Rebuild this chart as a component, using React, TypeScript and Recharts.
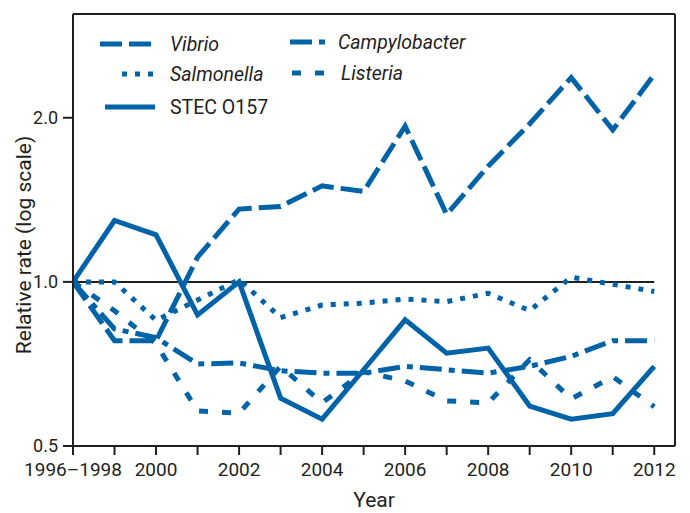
import React from "react";
import { LineChart, Line, XAxis, YAxis, ReferenceLine, Legend } from "recharts";

const categories = [
  "1996–1998", "1999", "2000", "2001", "2002", "2003", "2004", "2005",
  "2006", "2007", "2008", "2009", "2010", "2011", "2012",
];
const tickLabels = ["1996–1998", "2000", "2002", "2004", "2006", "2008", "2010", "2012"];

const vibrio = [1.0, 0.78, 0.78, 1.11, 1.36, 1.375, 1.5, 1.465, 1.93, 1.33, 1.63, 1.95, 2.37, 1.9, 2.4];
const salmonella = [1.0, 1.0, 0.85, 0.926, 1.01, 0.86, 0.907, 0.914, 0.93, 0.92, 0.953, 0.886, 1.02, 0.99, 0.96];
const stec = [1.0, 1.296, 1.22, 0.87, 1.0, 0.612, 0.56, 0.69, 0.852, 0.74, 0.756, 0.592, 0.56, 0.573, 0.7];
const campylobacter = [1.0, 0.82, 0.79, 0.707, 0.71, 0.687, 0.68, 0.68, 0.7, 0.69, 0.68, 0.7, 0.73, 0.78, 0.78];
const listeria = [1.0, 0.885, 0.77, 0.58, 0.574, 0.7, 0.6, 0.684, 0.658, 0.605, 0.6, 0.72, 0.61, 0.67, 0.59];

const yTicks = [0.5, 1, 2];
const yTop = 3.1;

const BLUE = "#0063a8";
const INK = "#231f20";
const FONT = "Roboto, 'Open Sans', sans-serif";

const series = [
  { key: "vibrio", name: "Vibrio", dash: "22 7", italic: true },
  { key: "salmonella", name: "Salmonella", dash: "5 8", italic: true },
  { key: "stec", name: "STEC O157", dash: undefined, italic: false },
  { key: "campylobacter", name: "Campylobacter", dash: "22 7 6 7", italic: true },
  { key: "listeria", name: "Listeria", dash: "9 14", italic: true },
];

const data = categories.map((c, i) => ({
  i,
  cat: c,
  vibrio: vibrio[i],
  salmonella: salmonella[i],
  stec: stec[i],
  campylobacter: campylobacter[i],
  listeria: listeria[i],
}));

const legendSlots = [
  { x1: 100, x2: 152, tx: 170, y: 44 },
  { x1: 122, x2: 153, tx: 170, y: 74 },
  { x1: 105, x2: 155, tx: 170, y: 107 },
  { x1: 290, x2: 326, tx: 338, y: 42 },
  { x1: 292, x2: 324, tx: 341, y: 73 },
];

const LegendBox = () => (
  <svg width={690} height={130} style={{ display: "block" }}>
    {series.map((s, idx) => {
      const p = legendSlots[idx];
      return (
        <g key={s.key}>
          <line
            x1={p.x1}
            x2={p.x2}
            y1={p.y}
            y2={p.y}
            stroke={BLUE}
            strokeWidth={5}
            strokeDasharray={s.dash}
          />
          <text
            x={p.tx}
            y={p.y + 7}
            fontFamily={FONT}
            fontSize={19.5}
            fontStyle={s.italic ? "italic" : "normal"}
            fill={INK}
          >
            {s.name}
          </text>
        </g>
      );
    })}
  </svg>
);

const xTickFormatter = (v: number) => {
  const label = categories[v];
  return tickLabels.includes(label) ? label : "";
};

export default function App() {
  return (
    <div style={{ position: "absolute", left: 0, top: 0, width: 690, height: 513, background: "#fff" }}>
      <LineChart
        width={690}
        height={513}
        data={data}
        margin={{ top: 14, right: 15, bottom: 0, left: 0 }}
      >
        <XAxis
          dataKey="i"
          type="number"
          domain={[0, 14.5]}
          ticks={categories.map((_, i) => i)}
          tickFormatter={xTickFormatter}
          interval={0}
          height={67}
          stroke={INK}
          strokeWidth={2}
          tickSize={9}
          tickMargin={8}
          tick={{ fill: INK, fontSize: 19, fontFamily: FONT }}
          allowDataOverflow
          label={{ value: "Year", position: "insideBottom", offset: 6, fill: INK, fontSize: 21, fontFamily: FONT }}
        />
        <YAxis
          scale="log"
          domain={[0.5, yTop]}
          allowDataOverflow
          ticks={yTicks}
          tickFormatter={(v: number) => v.toFixed(1)}
          width={73}
          stroke={INK}
          strokeWidth={2}
          tickSize={10}
          tickMargin={5}
          tick={{ fill: INK, fontSize: 18, fontFamily: FONT }}
          label={{
            value: "Relative rate (log scale)",
            angle: -90,
            position: "insideLeft",
            offset: 24,
            dy: 15,
            style: { textAnchor: "middle" },
            fill: INK,
            fontSize: 21,
            fontFamily: FONT,
          }}
        />
        <ReferenceLine y={yTop} stroke={INK} strokeWidth={2} />
        <ReferenceLine x={14.5} stroke={INK} strokeWidth={2} />
        <ReferenceLine
          segment={[{ x: 0, y: 1 }, { x: 14, y: 1 }]}
          stroke={INK}
          strokeWidth={2}
        />
        {series.map((s) => (
          <Line
            key={s.key}
            dataKey={s.key}
            name={s.name}
            stroke={BLUE}
            strokeWidth={5}
            strokeDasharray={s.dash}
            strokeLinejoin="miter"
            strokeLinecap="butt"
            dot={false}
            activeDot={false}
            type="linear"
            isAnimationActive={false}
          />
        ))}
        <Legend
          layout="horizontal"
          verticalAlign="middle"
          align="center"
          content={() => <LegendBox />}
          wrapperStyle={{ position: "absolute", left: 0, top: 0, width: 690, height: 130 }}
        />
      </LineChart>
    </div>
  );
}
